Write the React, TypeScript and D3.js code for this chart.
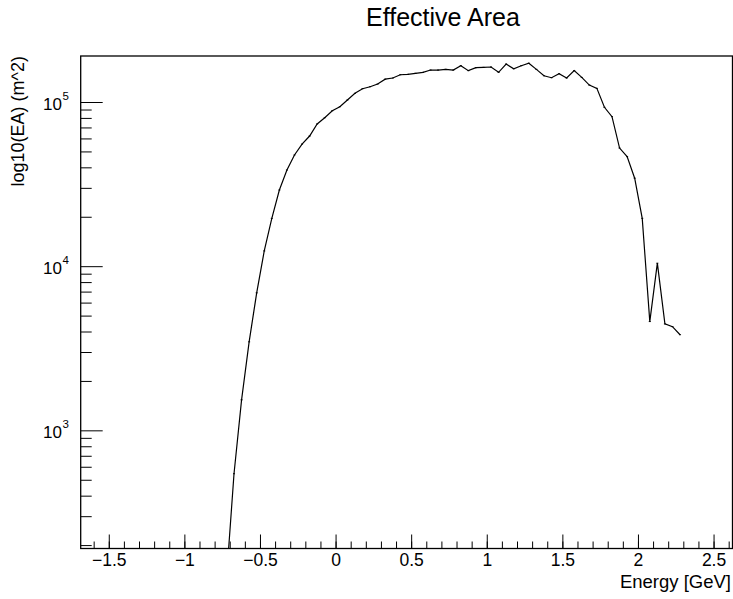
import React from "react";
import * as d3 from "d3";

// Bin centres (GeV, log10 energy) and effective area values (m^2)
const energy = [
  -0.725, -0.675, -0.625, -0.575, -0.525, -0.475, -0.425, -0.375, -0.325, -0.275,
  -0.225, -0.175, -0.125, -0.075, -0.025, 0.025, 0.075, 0.125, 0.175, 0.225,
  0.275, 0.325, 0.375, 0.425, 0.475, 0.525, 0.575, 0.625, 0.675, 0.725,
  0.775, 0.825, 0.875, 0.925, 0.975, 1.025, 1.075, 1.125, 1.175, 1.225,
  1.275, 1.325, 1.375, 1.425, 1.475, 1.525, 1.575, 1.625, 1.675, 1.725,
  1.775, 1.825, 1.875, 1.925, 1.975, 2.025, 2.075, 2.125, 2.175, 2.225, 2.275,
];
const effArea = [
  125, 548, 1545, 3485, 6930, 12470, 19700, 29300, 38800, 47900,
  55800, 62500, 74000, 80800, 89100, 94300, 103600, 113700, 121400, 124800,
  129600, 138700, 141000, 147600, 148500, 150600, 152700, 157700, 157700, 159200,
  157700, 167600, 156300, 162900, 163700, 164500, 152700, 171500, 160600, 167600,
  173400, 159200, 145600, 141600, 149600, 141000, 156300, 142200, 127700, 122000,
  93500, 82000, 52800, 46800, 34600, 19700, 4630, 10500, 4480, 4310, 3850,
];

const xTickValues = [-1.5, -1, -0.5, 0, 0.5, 1, 1.5, 2, 2.5];
const xTickLabels = ["\u22121.5", "\u22121", "\u22120.5", "0", "0.5", "1", "1.5", "2", "2.5"];
const yDecades = [3, 4, 5];

const titleText = "Effective Area";
const xTitle = "Energy [GeV]";
const yTitle = "log10(EA) (m^2)";

export default function App() {
  const W = 733, H = 599;
  const left = 80.7, right = 732.5, top = 56, bottom = 548.5;
  const x = d3.scaleLinear().domain([-1.689, 2.622]).range([left, right]);
  const y = d3.scaleLog().domain([192, 1.92e5]).range([bottom, top]);

  const pts = energy.map((e, i) => [e, effArea[i]] as [number, number]);
  const line = d3.line<[number, number]>().x(d => x(d[0])).y(d => y(d[1]));

  const xMinor = d3.range(-16, 27).map(v => v / 10).filter(v => x(v) > left + 0.5 && x(v) < right);
  const yMinor: number[] = [];
  for (let dec = 2; dec <= 5; dec++) {
    for (let m = 2; m <= 9; m++) {
      const v = m * Math.pow(10, dec);
      if (v > 192 && v < 1.92e5) yMinor.push(v);
    }
  }
  const font = "'Liberation Sans', Arial, Helvetica, sans-serif";

  return (
    <svg width={W} height={H} style={{ position: "absolute", left: 0, top: 0, background: "#fff" }}>
      <defs>
        <clipPath id="frame">
          <rect x={left} y={top} width={right - left} height={bottom - top} />
        </clipPath>
      </defs>
      <text x={443} y={26} textAnchor="middle" fontFamily={font} fontSize={25}>{titleText}</text>
      <g clipPath="url(#frame)">
        <path d={line(pts) || ""} fill="none" stroke="#000" strokeWidth={1.2} />
        {pts.map((p, i) => (
          <line key={i} x1={x(p[0]) - 1} x2={x(p[0]) + 1} y1={y(p[1])} y2={y(p[1])} stroke="#000" strokeWidth={1} />
        ))}
      </g>
      {xMinor.map((v, i) => (
        <line key={"xm" + i} x1={x(v)} x2={x(v)} y1={bottom} y2={bottom - 7} stroke="#000" strokeWidth={1} />
      ))}
      {xTickValues.map((v, i) => (
        <g key={"xt" + i}>
          <line x1={x(v)} x2={x(v)} y1={bottom} y2={bottom - 14} stroke="#000" strokeWidth={1} />
          <text x={x(v)} y={566} textAnchor="middle" fontFamily={font} fontSize={17.5}>{xTickLabels[i]}</text>
        </g>
      ))}
      {yMinor.map((v, i) => (
        <line key={"ym" + i} x1={left} x2={left + 11} y1={y(v)} y2={y(v)} stroke="#000" strokeWidth={1} />
      ))}
      {yDecades.map((d, i) => (
        <g key={"yt" + i}>
          <line x1={left} x2={left + 22} y1={y(Math.pow(10, d))} y2={y(Math.pow(10, d))} stroke="#000" strokeWidth={1} />
          <text x={62} y={y(Math.pow(10, d)) + 7} textAnchor="end" fontFamily={font} fontSize={17}>10</text>
          <text x={62.5} y={y(Math.pow(10, d)) - 3} textAnchor="start" fontFamily={font} fontSize={11.5}>{d}</text>
        </g>
      ))}
      <rect x={left} y={top} width={right - left} height={bottom - top} fill="none" stroke="#000" strokeWidth={1.3} />
      <text x={731} y={588} textAnchor="end" fontFamily={font} fontSize={18.5}>{xTitle}</text>
      <text transform={`translate(24, ${top}) rotate(-90)`} textAnchor="end" fontFamily={font} fontSize={18}>{yTitle}</text>
    </svg>
  );
}
